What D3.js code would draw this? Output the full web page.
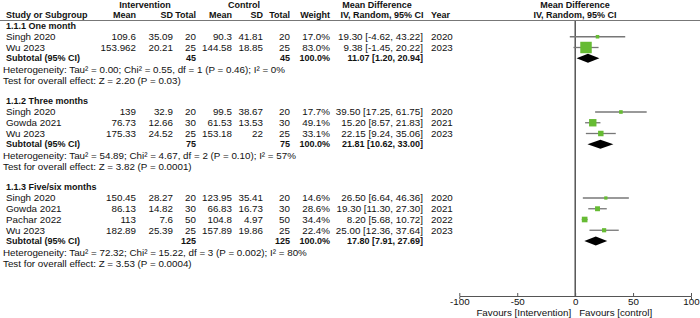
<!DOCTYPE html>
<html>
<head>
<meta charset="utf-8">
<script src="https://cdn.jsdelivr.net/npm/d3@7"></script>
<style>
  body { margin: 0; background: #fff; }
  svg text { font-family: "Liberation Sans", Arial, sans-serif; font-size: 9.8px; fill: #111; }
  svg text.b { font-weight: bold; font-size: 9px; }
</style>
</head>
<body>
<div id="chart"></div>
<script>
// subgroups
var groupNames = ["1.1.1 One month", "1.1.2 Three months", "1.1.3 Five/six months"];

// studies
var studyNames = ["Singh 2020", "Wu 2023", "Singh 2020", "Gowda 2021", "Wu 2023", "Singh 2020", "Gowda 2021", "Pachar 2022", "Wu 2023"];
var studyGroup = [0, 0, 1, 1, 1, 2, 2, 2, 2];
var intMean = [109.6, 153.962, 139, 76.73, 175.33, 150.45, 86.13, 113, 182.89];
var intSD = [35.09, 20.21, 32.9, 12.66, 24.52, 28.27, 14.82, 7.6, 25.39];
var intN = [20, 25, 20, 30, 25, 20, 30, 50, 25];
var ctlMean = [90.3, 144.58, 99.5, 61.53, 153.18, 123.95, 66.83, 104.8, 157.89];
var ctlSD = [41.81, 18.85, 38.67, 13.53, 22, 35.41, 16.73, 4.97, 19.86];
var ctlN = [20, 25, 20, 30, 25, 20, 30, 50, 25];
var weight = [17.0, 83.0, 17.7, 49.1, 33.1, 14.6, 28.6, 34.4, 22.4];
var md = [19.30, 9.38, 39.50, 15.20, 22.15, 26.50, 19.30, 8.20, 25.00];
var mdLow = [-4.62, -1.45, 17.25, 8.57, 9.24, 6.64, 11.30, 5.68, 12.36];
var mdHigh = [43.22, 20.22, 61.75, 21.83, 35.06, 46.36, 27.30, 10.72, 37.64];
var years = [2020, 2023, 2020, 2021, 2023, 2020, 2021, 2022, 2023];

// subtotals
var subIntN = [45, 75, 125];
var subCtlN = [45, 75, 125];
var subMd = [11.07, 21.81, 17.80];
var subLow = [1.20, 10.62, 7.91];
var subHigh = [20.94, 33.00, 27.69];
var hetText = [
    "Heterogeneity: Tau² = 0.00; Chi² = 0.55, df = 1 (P = 0.46); I² = 0%",
    "Heterogeneity: Tau² = 54.89; Chi² = 4.67, df = 2 (P = 0.10); I² = 57%",
    "Heterogeneity: Tau² = 72.32; Chi² = 15.22, df = 3 (P = 0.002); I² = 80%"
];
var testText = [
    "Test for overall effect: Z = 2.20 (P = 0.03)",
    "Test for overall effect: Z = 3.82 (P = 0.0001)",
    "Test for overall effect: Z = 3.53 (P = 0.0004)"
];

// axis
var axisTicks = [-100, -50, 0, 50, 100];
var favoursLeft = "Favours [Intervention]";
var favoursRight = "Favours [control]";

var width = 700, height = 318;
var axisY = 296;

var svg = d3.select("#chart").append("svg")
    .attr("width", width)
    .attr("height", height);

// row index -> y
var rowY = d3.scaleLinear().domain([0, 22]).range([26, 262.5]);

// effect scale
var xScale = d3.scaleLinear().domain([-100, 100]).range([459.3, 691]);

// box size from weight
var boxSize = d3.scaleLinear().domain([0, 100]).range([1.5, 13.5]);

// column x positions (right edges for numbers)
var col = {
    name: 6, iMean: 136, iSD: 173, iN: 196, cMean: 232, cSD: 263, cN: 290,
    weight: 330, ci: 423, year: 431
};

function txt(x, y, s, anchor, bold) {
    return svg.append("text")
        .attr("class", bold ? "b" : null)
        .attr("x", x)
        .attr("y", y)
        .attr("dy", "0.35em")
        .attr("text-anchor", anchor || "start")
        .text(s);
}

function ciText(m, lo, hi) {
    return m.toFixed(2) + " [" + lo.toFixed(2) + ", " + hi.toFixed(2) + "]";
}

// headers
var h1 = 4.5, h2 = 15;
txt(145, h1, "Intervention", "middle", true);
txt(244, h1, "Control", "middle", true);
txt(377, h1, "Mean Difference", "middle", true);
txt(575, h1, "Mean Difference", "middle", true);
txt(col.name, h2, "Study or Subgroup", "start", true);
txt(col.iMean, h2, "Mean", "end", true);
txt(col.iSD, h2, "SD", "end", true);
txt(col.iN, h2, "Total", "end", true);
txt(col.cMean, h2, "Mean", "end", true);
txt(col.cSD, h2, "SD", "end", true);
txt(col.cN, h2, "Total", "end", true);
txt(col.weight, h2, "Weight", "end", true);
txt(382, h2, "IV, Random, 95% CI", "middle", true);
txt(col.year, h2, "Year", "start", true);
txt(575, h2, "IV, Random, 95% CI", "middle", true);

svg.append("line")
    .attr("x1", 0).attr("x2", width)
    .attr("y1", 20.5).attr("y2", 20.5)
    .attr("stroke", "#777").attr("stroke-width", 1);

// zero line
svg.append("line")
    .attr("x1", xScale(0)).attr("x2", xScale(0))
    .attr("y1", 21).attr("y2", axisY)
    .attr("stroke", "#000").attr("stroke-width", 1);

// build rows
var row = 0;
groupNames.forEach(function(g, gi) {
    if (gi > 0) row += 2;
    txt(col.name, rowY(row), g, "start", true);

    studyNames.forEach(function(name, i) {
        if (studyGroup[i] !== gi) return;
        row += 1;
        var y = rowY(row);
        txt(col.name, y, name);
        txt(col.iMean, y, String(intMean[i]), "end");
        txt(col.iSD, y, String(intSD[i]), "end");
        txt(col.iN, y, String(intN[i]), "end");
        txt(col.cMean, y, String(ctlMean[i]), "end");
        txt(col.cSD, y, String(ctlSD[i]), "end");
        txt(col.cN, y, String(ctlN[i]), "end");
        txt(col.weight, y, weight[i].toFixed(1) + "%", "end");
        txt(col.ci, y, ciText(md[i], mdLow[i], mdHigh[i]), "end");
        txt(col.year, y, String(years[i]));

        // CI line and box
        svg.append("line")
            .attr("x1", xScale(mdLow[i])).attr("x2", xScale(mdHigh[i]))
            .attr("y1", y).attr("y2", y)
            .attr("stroke", "#777").attr("stroke-width", 1.3);
        var s = boxSize(weight[i]);
        svg.append("rect")
            .attr("x", xScale(md[i]) - s / 2)
            .attr("y", y - s / 2)
            .attr("width", s).attr("height", s)
            .attr("fill", "#66bb33");
    });

    // subtotal
    row += 1;
    var ys = rowY(row);
    txt(col.name, ys, "Subtotal (95% CI)", "start", true);
    txt(col.iN, ys, String(subIntN[gi]), "end", true);
    txt(col.cN, ys, String(subCtlN[gi]), "end", true);
    txt(col.weight, ys, "100.0%", "end", true);
    txt(col.ci, ys, ciText(subMd[gi], subLow[gi], subHigh[gi]), "end", true);

    var dh = 4.5;
    svg.append("path")
        .attr("d", "M" + xScale(subLow[gi]) + "," + ys +
                   "L" + xScale(subMd[gi]) + "," + (ys - dh) +
                   "L" + xScale(subHigh[gi]) + "," + ys +
                   "L" + xScale(subMd[gi]) + "," + (ys + dh) + "Z")
        .attr("fill", "#000");

    row += 1;
    txt(3, rowY(row) + 0.8, hetText[gi]);
    row += 1;
    txt(3, rowY(row) + 0.8, testText[gi]);
});

// bottom axis
var xAxis = d3.axisBottom(xScale)
    .tickValues(axisTicks)
    .tickSize(-3)
    .tickSizeOuter(3)
    .tickPadding(2)
    .tickFormat(function(d) { return String(d); });

var gAxis = svg.append("g")
    .attr("transform", "translate(0," + axisY + ")")
    .call(xAxis);
gAxis.selectAll("path, line").attr("stroke", "#555");
gAxis.selectAll("text")
    .style("font-family", "'Liberation Sans', Arial, sans-serif")
    .style("font-size", "9.8px")
    .attr("fill", "#111");

txt(xScale(0) - 4, 312.5, favoursLeft, "end");
txt(xScale(0) + 4, 312.5, favoursRight, "start");
</script>
</body>
</html>
